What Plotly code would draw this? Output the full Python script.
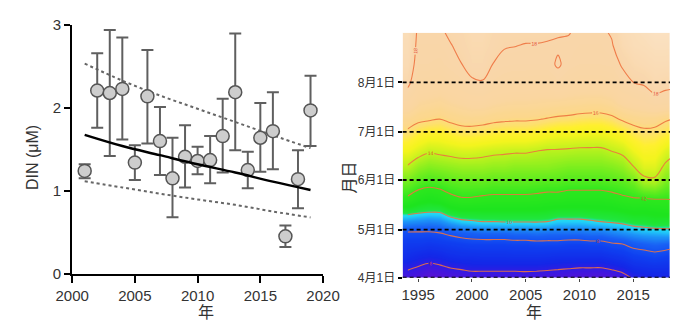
import plotly.graph_objects as go

# ---------------- left panel data (DIN) ----------------
years_din = [2001, 2002, 2003, 2004, 2005, 2006, 2007, 2008, 2009, 2010,
             2011, 2012, 2013, 2014, 2015, 2016, 2017, 2018, 2019]
din_mean = [1.24, 2.21, 2.18, 2.23, 1.34, 2.14, 1.60, 1.15, 1.41, 1.36,
            1.37, 1.66, 2.19, 1.25, 1.64, 1.72, 0.45, 1.14, 1.97]
din_err_up = [0.08, 0.45, 0.76, 0.62, 0.21, 0.56, 0.41, 0.49, 0.38, 0.17,
              0.29, 0.45, 0.71, 0.22, 0.42, 0.47, 0.13, 0.35, 0.42]
din_err_down = [0.09, 0.45, 0.76, 0.61, 0.21, 0.57, 0.41, 0.47, 0.37, 0.16,
                0.28, 0.44, 0.70, 0.22, 0.41, 0.46, 0.13, 0.35, 0.43]

trend_years = [2001, 2004, 2007, 2010, 2013, 2016, 2019]
trend_fit = [1.675, 1.54, 1.43, 1.32, 1.22, 1.11, 1.01]
trend_upper = [2.535, 2.33, 2.15, 1.99, 1.83, 1.67, 1.515]
trend_lower = [1.115, 1.04, 0.965, 0.895, 0.83, 0.75, 0.678]

# ---------------- right panel data (heatmap) ----------------
hm_years = list(range(1994, 2020))
hm_doy = [91, 98, 105, 112, 119, 126, 133, 140, 150, 160, 170, 180,
          190, 200, 212, 224, 236, 244]
hm_z = [
    [5.6, 5.4, 5.1, 5.2, 5.4, 5.5, 5.6, 5.6, 5.6, 5.6, 5.6, 5.65, 5.6, 5.55, 5.5, 5.4, 5.3, 5.3, 5.25, 5.4, 5.65, 6.1, 6.2, 6.3, 6.3, 6.25],
    [6.2, 6.0, 5.8, 5.9, 6.1, 6.2, 6.3, 6.3, 6.3, 6.3, 6.3, 6.3, 6.3, 6.25, 6.2, 6.15, 6.1, 6.1, 6.1, 6.25, 6.45, 6.8, 6.9, 7.0, 6.95, 6.85],
    [6.8, 6.6, 6.5, 6.6, 6.8, 6.9, 6.9, 6.95, 6.95, 6.95, 7.0, 7.0, 7.0, 6.95, 6.9, 6.9, 6.9, 6.9, 6.9, 7.05, 7.2, 7.5, 7.6, 7.75, 7.6, 7.5],
    [7.3, 7.3, 7.2, 7.3, 7.4, 7.5, 7.6, 7.6, 7.6, 7.6, 7.65, 7.65, 7.7, 7.7, 7.7, 7.6, 7.6, 7.7, 7.7, 7.9, 8.0, 8.3, 8.45, 8.6, 8.5, 8.25],
    [7.9, 7.9, 7.9, 8.0, 8.2, 8.4, 8.5, 8.6, 8.6, 8.6, 8.7, 8.7, 8.8, 8.7, 8.7, 8.7, 8.7, 8.8, 8.8, 9.0, 9.2, 9.4, 9.55, 9.6, 9.7, 9.7],
    [9.2, 9.1, 9.0, 9.1, 9.5, 9.8, 9.9, 10.0, 10.0, 10.05, 10.05, 10.05, 10.05, 10.0, 9.8, 9.8, 9.8, 9.9, 10.0, 10.1, 10.2, 10.4, 10.45, 10.6, 10.5, 10.6],
    [10.5, 10.3, 10.2, 10.2, 10.7, 10.9, 10.9, 10.9, 10.9, 10.9, 10.9, 10.9, 10.9, 10.8, 10.7, 10.7, 10.7, 10.75, 10.8, 10.85, 11.0, 11.15, 11.1, 11.2, 11.3, 11.3],
    [11.8, 11.3, 11.1, 11.3, 11.7, 11.9, 11.9, 11.8, 11.75, 11.75, 11.75, 11.75, 11.7, 11.6, 11.6, 11.5, 11.5, 11.5, 11.5, 11.6, 11.8, 11.9, 11.9, 12.0, 12.0, 12.05],
    [12.9, 12.5, 12.3, 12.4, 12.6, 12.7, 12.7, 12.7, 12.6, 12.6, 12.6, 12.6, 12.55, 12.5, 12.5, 12.4, 12.4, 12.4, 12.4, 12.5, 12.6, 12.9, 13.6, 13.7, 13.0, 12.75],
    [13.9, 13.4, 13.2, 13.3, 13.4, 13.5, 13.5, 13.5, 13.4, 13.4, 13.3, 13.3, 13.3, 13.3, 13.2, 13.1, 13.1, 13.1, 13.1, 13.2, 13.4, 13.95, 14.5, 14.5, 13.8, 13.4],
    [14.8, 14.4, 14.1, 14.2, 14.3, 14.4, 14.4, 14.3, 14.2, 14.15, 14.1, 14.1, 14.0, 13.9, 13.9, 13.85, 13.8, 13.8, 13.8, 14.0, 14.2, 14.75, 15.1, 15.05, 14.5, 14.15],
    [15.7, 15.3, 15.1, 15.1, 15.3, 15.5, 15.5, 15.4, 15.3, 15.2, 15.2, 15.2, 15.1, 14.9, 14.8, 14.8, 14.75, 14.7, 14.7, 14.85, 15.1, 15.5, 15.7, 15.65, 15.4, 14.9],
    [16.5, 16.2, 16.1, 16.0, 16.2, 16.35, 16.4, 16.35, 16.2, 16.15, 16.1, 16.1, 16.05, 15.95, 15.85, 15.8, 15.7, 15.65, 15.65, 15.8, 16.1, 16.3, 16.4, 16.35, 16.1, 15.95],
    [17.4, 16.9, 16.8, 16.7, 16.9, 17.05, 17.2, 17.2, 17.0, 16.9, 16.85, 16.85, 16.8, 16.75, 16.7, 16.65, 16.6, 16.55, 16.55, 16.7, 17.1, 17.3, 17.4, 17.7, 17.6, 17.55],
    [18.15, 17.5, 17.45, 17.4, 17.55, 17.7, 17.9, 17.95, 17.7, 17.6, 17.55, 17.55, 17.5, 17.5, 17.7, 17.5, 17.4, 17.4, 17.4, 17.5, 17.8, 17.97, 18.05, 18.3, 18.2, 18.15],
    [18.4, 17.75, 17.75, 17.7, 17.85, 17.98, 18.2, 18.2, 17.98, 17.88, 17.85, 17.85, 17.85, 17.85, 18.06, 17.85, 17.75, 17.75, 17.75, 17.8, 18.05, 18.3, 18.4, 18.5, 18.5, 18.45],
    [18.5, 17.85, 17.85, 17.85, 17.97, 18.15, 18.3, 18.3, 18.15, 18.03, 18.01, 17.98, 17.98, 17.96, 17.94, 17.92, 17.85, 17.85, 17.85, 17.95, 18.35, 18.55, 18.6, 18.7, 18.7, 18.65],
    [18.55, 17.9, 17.9, 17.9, 18.1, 18.2, 18.35, 18.35, 18.2, 18.1, 18.1, 18.1, 18.1, 18.08, 18.04, 18.02, 17.9, 17.9, 17.9, 18.05, 18.45, 18.6, 18.7, 18.8, 18.8, 18.75],
]
month_doy = [91, 121, 152, 182, 213]
month_labels = ["4月1日", "5月1日", "6月1日", "7月1日", "8月1日"]
hm_xticks = [1995, 2000, 2005, 2010, 2015]

W, H = 687, 329
def px(x):
    return x / W
def py(y):
    return 1 - y / H

FONT = "Liberation Sans, Arial, Noto Sans CJK JP, sans-serif"
TXT = "#333333"

fig = go.Figure()

# prediction band (dashed)
for band in (trend_upper, trend_lower):
    fig.add_trace(go.Scatter(x=trend_years, y=band, mode="lines",
                             line=dict(color="#666666", width=2, dash="3px,3px", shape="spline"),
                             xaxis="x", yaxis="y", showlegend=False, hoverinfo="skip"))
# data with error bars
fig.add_trace(go.Scatter(
    x=years_din, y=din_mean, mode="markers",
    marker=dict(size=13, color="#cdcdcd", line=dict(color="#555555", width=1.5)),
    error_y=dict(type="data", symmetric=False, array=din_err_up, arrayminus=din_err_down,
                 color="#5f5f5f", thickness=2, width=6),
    xaxis="x", yaxis="y", showlegend=False))
# fit line
fig.add_trace(go.Scatter(x=trend_years, y=trend_fit, mode="lines",
                         line=dict(color="black", width=2.5, shape="spline"),
                         xaxis="x", yaxis="y", showlegend=False, hoverinfo="skip"))

# heatmap
cscale = [
    [0.000, "#6010d0"], [0.057, "#4018e0"], [0.107, "#1428e8"], [0.179, "#1040f0"],
    [0.250, "#1a62f5"], [0.307, "#1e98f8"], [0.345, "#22d0f8"], [0.357, "#22dcf0"],
    [0.375, "#22e640"], [0.429, "#1ee41e"], [0.500, "#2ee81e"], [0.571, "#74ee1e"],
    [0.643, "#c0f21e"], [0.700, "#f4f41e"], [0.735, "#fff030"], [0.770, "#fde070"],
    [0.800, "#fcd88c"], [0.857, "#fad6a0"], [0.929, "#f9d6aa"], [0.964, "#fadcb6"],
    [1.000, "#fbe4c8"],
]
fig.add_trace(go.Heatmap(x=hm_years, y=hm_doy, z=hm_z, zmin=5, zmax=19,
                         colorscale=cscale, zsmooth="best", showscale=False,
                         xaxis="x2", yaxis="y2", hoverinfo="skip"))
fig.add_trace(go.Contour(x=hm_years, y=hm_doy, z=hm_z,
                         contours=dict(start=6, end=18, size=2, coloring="lines",
                                       showlabels=True,
                                       labelfont=dict(size=5, color="#e0402a")),
                         colorscale=[[0, "#ee7440"], [1, "#ee7440"]],
                         line=dict(width=1.1), showscale=False, opacity=0.9,
                         xaxis="x2", yaxis="y2", hoverinfo="skip"))

shapes = []
for d in month_doy:
    shapes.append(dict(type="line", xref="x2 domain", yref="y2", x0=0, x1=1, y0=d, y1=d,
                       line=dict(color="black", width=1.8, dash="4px,3px")))

annotations = [
    dict(text="DIN (μM)", x=px(17), y=py(157), xref="paper", yref="paper",
         xanchor="center", yanchor="middle",
         textangle=-90, showarrow=False, font=dict(size=16, color=TXT, family=FONT)),
    dict(text="年", x=px(199), y=py(320), xref="paper", yref="paper",
         xanchor="center", yanchor="middle",
         showarrow=False, font=dict(size=16, color=TXT, family=FONT)),
    dict(text="年", x=px(544), y=py(320), xref="paper", yref="paper",
         xanchor="center", yanchor="middle",
         showarrow=False, font=dict(size=16, color=TXT, family=FONT)),
    dict(text="月日", x=px(350), y=py(178), xref="paper", yref="paper",
         xanchor="center", yanchor="middle",
         textangle=-90, showarrow=False, font=dict(size=16, color=TXT, family=FONT)),
]

fig.update_layout(
    width=W, height=H, autosize=False,
    margin=dict(l=0, r=0, t=0, b=0),
    paper_bgcolor="white", plot_bgcolor="white",
    font=dict(family=FONT, color=TXT),
    xaxis=dict(domain=[px(58), px(322)], range=[2000, 2020], anchor="y",
               tickvals=[2000, 2005, 2010, 2015, 2020], ticks="outside", ticklen=7,
               tickwidth=2, tickcolor="black", showline=True, linecolor="black",
               linewidth=2, showgrid=False, zeroline=False,
               tickfont=dict(size=15, color=TXT)),
    yaxis=dict(domain=[py(279), py(17)], range=[0, 3], anchor="x",
               tickvals=[0, 1, 2, 3], ticks="outside", ticklen=6, tickwidth=2,
               tickcolor="black", showline=True, linecolor="black", linewidth=2,
               showgrid=False, zeroline=False, tickfont=dict(size=15, color=TXT)),
    xaxis2=dict(domain=[px(405.7), 1.0], range=[1993.55, 2018.42], anchor="y2",
                tickvals=hm_xticks, ticks="outside", ticklen=3, tickcolor="#444",
                showline=False, showgrid=False, zeroline=False,
                tickfont=dict(size=15, color=TXT)),
    yaxis2=dict(domain=[py(283.3), py(25)], range=[91, 244], anchor="x2",
                tickvals=month_doy, ticktext=month_labels, ticks="outside", ticklen=4,
                tickwidth=1.5, tickcolor="black", showline=False, showgrid=False,
                zeroline=False, tickfont=dict(size=12, color=TXT)),
    shapes=shapes, annotations=annotations,
)

fig.write_html("out.html")
